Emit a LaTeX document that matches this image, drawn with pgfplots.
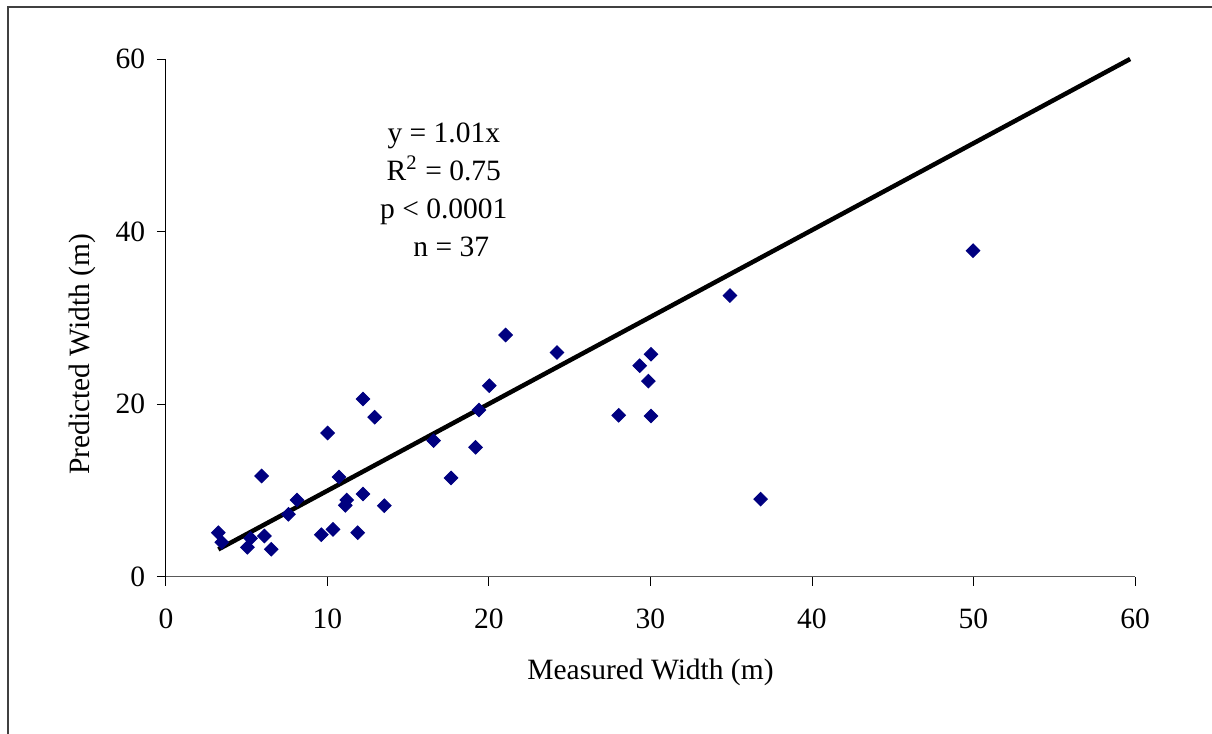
\documentclass[border=0pt]{standalone}
\usepackage{fontspec}
\setmainfont{Liberation Serif}
\usepackage{pgfplots}
\pgfplotsset{compat=1.18}
\definecolor{navy}{HTML}{000080}
\definecolor{framegray}{HTML}{404040}
\begin{document}
\begin{tikzpicture}
\begin{axis}[
  scale only axis,
  width=387.6pt, height=207.2pt,
  xmin=0, xmax=60, ymin=0, ymax=60,
  xtick={0,10,...,60}, ytick={0,20,40,60},
  axis x line=bottom, axis y line=left,
  axis line style={-, line width=0.4pt},
  x axis line style={black!65},
  tick align=outside,
  major tick length=3.6pt,
  tick style={black, line width=0.4pt},
  /pgf/number format/assume math mode=true,
  ticklabel style={font=\fontsize{11.8}{14}\selectfont},
  xticklabel style={yshift=-5.5pt},
  yticklabel style={xshift=-1.2pt},
  label style={font=\fontsize{11.8}{14}\selectfont},
  xlabel={Measured Width (m)},
  ylabel={Predicted Width (m)},
  xlabel style={at={(axis description cs:0.5,-0.185)}, anchor=center},
  ylabel style={at={(axis description cs:-0.0862,0.43)}, anchor=center},
  clip=false,
]
\addplot[only marks, mark=square*, mark size=1.9pt, mark options={rotate=45, fill=navy, draw=navy}]
coordinates {
(3.24,5.13) (3.45,4.02) (5.04,3.44) (5.24,4.48) (6.09,4.75) (6.52,3.21)
(5.92,11.70) (7.58,7.26) (8.11,8.92) (9.62,4.90) (10.34,5.52) (10.01,16.68)
(10.71,11.58) (11.19,8.92) (11.10,8.30) (11.87,5.13) (12.20,20.62) (12.20,9.61)
(12.92,18.51) (13.52,8.26) (16.57,15.79) (17.65,11.47) (19.17,15.02) (19.38,19.34)
(20.02,22.16) (21.03,28.03) (24.21,26.0) (28.03,18.73) (29.33,24.47) (29.87,22.69)
(30.03,25.8) (30.03,18.65) (34.92,32.6) (36.82,9.02) (49.97,37.8)
};
\addplot[black, line width=1.8pt] coordinates {(3.24,3.2) (59.7,60.0)};
\node[align=center, font=\fontsize{11.8}{15.2}\selectfont] at (axis cs:17.2,44.9)
  {y = 1.01x\\R\textsuperscript{2} = 0.75\\p < 0.0001\\\hspace*{6pt}n = 37};
\end{axis}
\draw[framegray, line width=0.8pt] (-63.2pt,-80pt) -- (-63.2pt,228pt) -- (440pt,228pt);
\pgfresetboundingbox
\useasboundingbox (-66.4pt,-62.8pt) rectangle (418.4pt,230.8pt);
\end{tikzpicture}
\end{document}
